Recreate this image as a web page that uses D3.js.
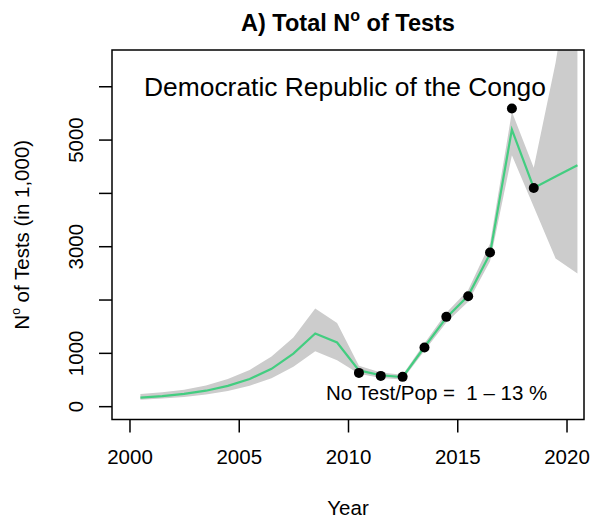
<!DOCTYPE html>
<html><head><meta charset="utf-8">
<script src="https://cdn.jsdelivr.net/npm/d3@7"></script>
<style>body{margin:0;background:#fff}svg{display:block}text{font-family:"Liberation Sans",Arial,Helvetica,sans-serif;fill:#000}</style>
</head><body><svg id="c" width="592" height="525"></svg>
<script>
// Data (values in 1,000 tests); plotted at mid-year
const years   = [2000,2001,2002,2003,2004,2005,2006,2007,2008,2009,2010,2011,2012,2013,2014,2015,2016,2017,2018,2019,2020];
const fitted  = [160,190,230,290,380,510,700,985,1363,1194,670,580,545,1110,1660,2070,2860,5188,4093,4306,4519];
const lower   = [120,143,172,218,285,383,525,737,1031,863,610,530,500,1040,1570,1960,2720,4706,3740,2770,2488];
const upper   = [230,260,310,390,510,680,930,1288,1832,1562,760,630,590,1180,1750,2180,3050,5520,4470,6440,9000];
const obsYears = [2010,2011,2012,2013,2014,2015,2016,2017,2018];
const observed = [624,568,550,1100,1675,2063,2882,5582,4093];
const xTicks = [2000,2005,2010,2015,2020];
const yTicks = [0,1000,2000,3000,4000,5000,6000];
const yLabelled = [0,1000,3000,5000];

const svg = d3.select("#c");
const L=112,R=584,T=50,B=419.5;
const x = d3.scaleLinear().domain([1999.2,2020.8]).range([L,R]);
const y = d3.scaleLinear().domain([-250,6680]).range([B,T]);
const mid = d => d+0.5;

svg.append("clipPath").attr("id","clip").append("rect").attr("x",L).attr("y",T).attr("width",R-L).attr("height",B-T);
const g = svg.append("g").attr("clip-path","url(#clip)");

const band = years.map((yr,i)=>({yr,lo:lower[i],hi:upper[i],f:fitted[i]}));
g.append("path").datum(band)
  .attr("d", d3.area().x(d=>x(mid(d.yr))).y0(d=>y(d.lo)).y1(d=>y(d.hi)))
  .attr("fill","#cccccc");
g.append("path").datum(band)
  .attr("d", d3.line().x(d=>x(mid(d.yr))).y(d=>y(d.f)))
  .attr("fill","none").attr("stroke","#43cd80").attr("stroke-width",2.2);
g.selectAll("circle").data(obsYears.map((yr,i)=>({yr,v:observed[i]}))).enter().append("circle")
  .attr("cx",d=>x(mid(d.yr))).attr("cy",d=>y(d.v)).attr("r",5).attr("fill","#000");

// box
svg.append("rect").attr("x",L).attr("y",T).attr("width",R-L).attr("height",B-T)
  .attr("fill","none").attr("stroke","#000").attr("stroke-width",1.5);

// x axis
const xa = svg.append("g").attr("transform",`translate(0,${B})`)
  .call(d3.axisBottom(x).tickValues(xTicks).tickFormat(d3.format("d")).tickSize(13).tickPadding(17));
xa.select(".domain").remove();
xa.selectAll("line").attr("stroke","#000").attr("stroke-width",1.5);
xa.selectAll("text").attr("font-size","20.5px").attr("fill","#000");

// y axis
const ya = svg.append("g").attr("transform",`translate(${L},0)`)
  .call(d3.axisLeft(y).tickValues(yTicks).tickFormat(d=>yLabelled.includes(d)?String(d):"").tickSize(13));
ya.select(".domain").remove();
ya.selectAll("line").attr("stroke","#000").attr("stroke-width",1.5);
ya.selectAll("text").attr("font-size","20.5px").attr("fill","#000")
  .attr("text-anchor","middle").attr("x",null).attr("dy",null)
  .attr("transform","translate(-29.5,0) rotate(-90)");

// title
const tt = svg.append("text").attr("x",(L+R)/2).attr("y",31).attr("text-anchor","middle")
  .attr("font-size","23.5px").attr("font-weight","bold");
tt.append("tspan").text("A) Total N");
tt.append("tspan").attr("dy",-10).attr("font-size","16px").text("o");
tt.append("tspan").attr("dy",10).text(" of Tests");

// axis titles
svg.append("text").attr("x",(L+R)/2).attr("y",515).attr("text-anchor","middle").attr("font-size","20.5px").text("Year");
const yl = svg.append("text").attr("transform",`translate(29,${(T+B)/2}) rotate(-90)`).attr("text-anchor","middle").attr("font-size","20.5px");
yl.append("tspan").text("N");
yl.append("tspan").attr("dy",-9).attr("font-size","12px").text("o");
yl.append("tspan").attr("dy",9).text(" of Tests (in 1,000)");

// annotations
svg.append("text").attr("x",144).attr("y",96).attr("font-size","26.4px").text("Democratic Republic of the Congo");
svg.append("text").attr("x",326).attr("y",399.5).attr("font-size","20.5px").style("white-space","pre")
  .text("No Test/Pop =  1 \u2013 13 %");
</script></body></html>
